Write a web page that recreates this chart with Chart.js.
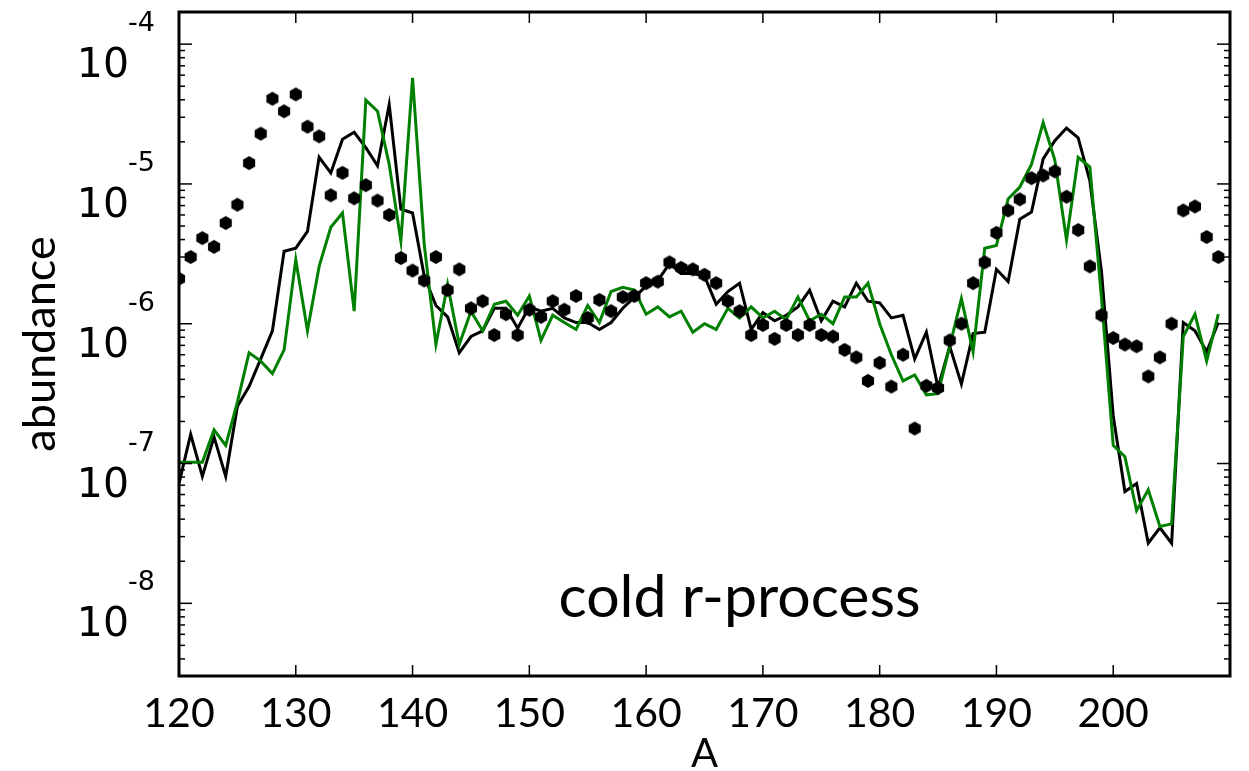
<!DOCTYPE html>
<html>
<head>
<meta charset="utf-8">
<script src="https://cdn.jsdelivr.net/npm/chart.js@4.4.1/dist/chart.umd.min.js"></script>
<style>
html, body { margin: 0; padding: 0; background: #fff; }
</style>
</head>
<body>
<canvas id="myChart" width="1249" height="771"></canvas>
<script>
const massNumbers = [
    120, 121, 122, 123, 124, 125, 126, 127, 128, 129,
    130, 131, 132, 133, 134, 135, 136, 137, 138, 139,
    140, 141, 142, 143, 144, 145, 146, 147, 148, 149,
    150, 151, 152, 153, 154, 155, 156, 157, 158, 159,
    160, 161, 162, 163, 164, 165, 166, 167, 168, 169,
    170, 171, 172, 173, 174, 175, 176, 177, 178, 179,
    180, 181, 182, 183, 184, 185, 186, 187, 188, 189,
    190, 191, 192, 193, 194, 195, 196, 197, 198, 199,
    200, 201, 202, 203, 204, 205, 206, 207, 208, 209,
];

// solar r-process abundances (dots)
const solarDots = [
    2.1e-6, 3.0e-6, 4.1e-6, 3.55e-6, 5.25e-6, 7.1e-6, 1.41e-5, 2.29e-5, 4.07e-5, 3.31e-5,
    4.37e-5, 2.57e-5, 2.19e-5, 8.3e-6, 1.2e-5, 7.9e-6, 9.8e-6, 7.6e-6, 6.0e-6, 2.95e-6,
    2.4e-6, 2.04e-6, 3.0e-6, 1.74e-6, 2.45e-6, 1.29e-6, 1.45e-6, 8.3e-7, 1.17e-6, 8.3e-7,
    1.26e-6, 1.12e-6, 1.45e-6, 1.26e-6, 1.58e-6, 1.1e-6, 1.48e-6, 1.23e-6, 1.55e-6, 1.58e-6,
    1.95e-6, 2.0e-6, 2.75e-6, 2.51e-6, 2.45e-6, 2.24e-6, 1.95e-6, 1.45e-6, 1.23e-6, 8.3e-7,
    9.8e-7, 7.8e-7, 9.8e-7, 8.3e-7, 9.8e-7, 8.3e-7, 8.1e-7, 6.5e-7, 5.75e-7, 3.9e-7,
    5.25e-7, 3.55e-7, 6.0e-7, 1.78e-7, 3.6e-7, 3.47e-7, 7.6e-7, 1.0e-6, 1.95e-6, 2.75e-6,
    4.47e-6, 6.46e-6, 7.76e-6, 1.1e-5, 1.15e-5, 1.23e-5, 8.1e-6, 4.68e-6, 2.57e-6, 1.15e-6,
    7.9e-7, 7.1e-7, 6.9e-7, 4.2e-7, 5.75e-7, 1.0e-6, 6.46e-6, 6.9e-6, 4.17e-6, 3.0e-6,
];

// model 1 (black line)
const blackModel = [
    7.2e-8, 1.62e-7, 8.1e-8, 1.55e-7, 8.1e-8, 2.57e-7, 3.55e-7, 5.6e-7, 8.9e-7, 3.3e-6,
    3.47e-6, 4.57e-6, 1.55e-5, 1.2e-5, 2.09e-5, 2.34e-5, 1.82e-5, 1.35e-5, 3.7e-5, 6.6e-6,
    6.2e-6, 2.19e-6, 1.35e-6, 1.12e-6, 6.2e-7, 8.1e-7, 8.9e-7, 1.29e-6, 1.29e-6, 9.3e-7,
    1.32e-6, 1.23e-6, 1.29e-6, 1.1e-6, 1.02e-6, 1.02e-6, 9.1e-7, 1.02e-6, 1.29e-6, 1.55e-6,
    1.86e-6, 2.04e-6, 2.69e-6, 2.29e-6, 2.29e-6, 2.19e-6, 1.38e-6, 1.7e-6, 1.95e-6, 9.1e-7,
    1.2e-6, 1.05e-6, 1.15e-6, 1.32e-6, 1.74e-6, 1.05e-6, 1.45e-6, 1.32e-6, 1.95e-6, 1.45e-6,
    1.41e-6, 1.1e-6, 1.15e-6, 5.6e-7, 8.7e-7, 3.47e-7, 6.9e-7, 3.7e-7, 8.5e-7, 8.7e-7,
    2.45e-6, 2.0e-6, 5.6e-6, 6.3e-6, 1.51e-5, 2.04e-5, 2.51e-5, 2.14e-5, 1.05e-5, 2.34e-6,
    2.19e-7, 6.3e-8, 7.2e-8, 2.69e-8, 3.47e-8, 2.69e-8, 1.02e-6, 8.9e-7, 6.3e-7, 1.02e-6,
];

// model 2 (green line)
const greenModel = [
    1.02e-7, 1.02e-7, 1.02e-7, 1.74e-7, 1.35e-7, 2.75e-7, 6.2e-7, 5.4e-7, 4.4e-7, 6.5e-7,
    2.88e-6, 8.9e-7, 2.57e-6, 4.9e-6, 6.2e-6, 1.23e-6, 3.98e-5, 3.31e-5, 1.38e-5, 3.9e-6,
    5.75e-5, 3.7e-6, 7.1e-7, 1.91e-6, 7.1e-7, 1.23e-6, 8.9e-7, 1.38e-6, 1.45e-6, 1.15e-6,
    1.58e-6, 7.6e-7, 1.15e-6, 1.02e-6, 9.1e-7, 1.35e-6, 1.02e-6, 1.7e-6, 1.82e-6, 1.74e-6,
    1.17e-6, 1.32e-6, 1.12e-6, 1.23e-6, 8.7e-7, 1.0e-6, 9.1e-7, 1.29e-6, 1.1e-6, 1.32e-6,
    1.1e-6, 1.23e-6, 1.07e-6, 1.55e-6, 1.05e-6, 1.17e-6, 1.0e-6, 1.55e-6, 1.55e-6, 1.95e-6,
    1.0e-6, 6.0e-7, 3.9e-7, 4.3e-7, 3.1e-7, 3.16e-7, 6.9e-7, 1.51e-6, 6.3e-7, 3.47e-6,
    3.63e-6, 7.8e-6, 9.5e-6, 1.38e-5, 2.75e-5, 1.48e-5, 3.98e-6, 1.55e-5, 1.32e-5, 1.51e-6,
    1.35e-7, 1.12e-7, 4.6e-8, 6.5e-8, 3.55e-8, 3.7e-8, 8.1e-7, 1.17e-6, 5.4e-7, 1.17e-6,
];

const xTickValues = [120, 130, 140, 150, 160, 170, 180, 190, 200];
const yLabelExponents = [-8, -7, -6, -5, -4];
const yTickExponents = [-9, -8, -7, -6, -5, -4];

// matplotlib style hexagon marker
function hexagonMarker(r) {
    const c = document.createElement('canvas');
    const s = Math.ceil(r * 2 + 2);
    c.width = s;
    c.height = s;
    const g = c.getContext('2d');
    g.beginPath();
    for (let i = 0; i < 6; i++) {
        const a = Math.PI / 2 + i * Math.PI / 3;
        const px = s / 2 + r * Math.cos(a);
        const py = s / 2 + r * Math.sin(a);
        if (i === 0) g.moveTo(px, py); else g.lineTo(px, py);
    }
    g.closePath();
    g.fillStyle = '#000';
    g.fill();
    return c;
}

const pairs = (vals) => massNumbers.map((a, i) => ({x: a, y: vals[i]}));

const framePlugin = {
    id: 'frame',
    afterDatasetsDraw(chart) {
        const {ctx, chartArea: area, scales} = chart;
        const x = scales.x, y = scales.y;
        ctx.save();
        ctx.strokeStyle = '#000';
        ctx.lineWidth = 1.5;
        const seg = (x1, y1, x2, y2) => {
            ctx.beginPath();
            ctx.moveTo(x1, y1);
            ctx.lineTo(x2, y2);
            ctx.stroke();
        };
        // log ticks, inward, left and right
        yTickExponents.forEach(e => {
            for (let m = 1; m < 10; m++) {
                const py = y.getPixelForValue(m * Math.pow(10, e));
                if (py < area.top || py > area.bottom) continue;
                const len = m === 1 ? 13 : 6;
                seg(area.left, py, area.left + len, py);
                seg(area.right, py, area.right - len, py);
            }
        });
        xTickValues.forEach(v => {
            const px = x.getPixelForValue(v);
            if (px <= area.left + 1) return;
            seg(px, area.bottom, px, area.bottom - 11);
            seg(px, area.top, px, area.top + 11);
        });
        ctx.lineWidth = 3;
        ctx.strokeRect(area.left, area.top, area.right - area.left, area.bottom - area.top);

        // y tick labels as 10^n
        ctx.fillStyle = '#000';
        ctx.textBaseline = 'alphabetic';
        yLabelExponents.forEach(e => {
            const py = y.getPixelForValue(Math.pow(10, e));
            ctx.font = '41px "DejaVu Sans"';
            ctx.textAlign = 'right';
            ctx.fillText('10', 129, py + 33);
            ctx.font = '27px "DejaVu Sans"';
            ctx.textAlign = 'left';
            ctx.fillText(String(e), 128, py - 13);
        });

        // annotation
        ctx.font = '59px Lato';
        ctx.textAlign = 'left';
        ctx.fillText('cold r-process', x.getPixelForValue(152.5), y.getPixelForValue(8e-9));
        ctx.restore();
    }
};

const data = {
    datasets: [{
        label: 'solar',
        data: pairs(solarDots),
        showLine: false,
        pointStyle: hexagonMarker(7),
        pointRadius: 7,
        order: 0,
        clip: 0,
    }, {
        label: 'green',
        data: pairs(greenModel),
        borderColor: '#008000',
        borderWidth: 3,
        pointRadius: 0,
        tension: 0,
        order: 1,
        clip: 0,
    }, {
        label: 'black',
        data: pairs(blackModel),
        borderColor: '#000000',
        borderWidth: 3,
        pointRadius: 0,
        tension: 0,
        order: 2,
        clip: 0,
    }]
};

const config = {
    type: 'line',
    data: data,
    options: {
        responsive: false,
        devicePixelRatio: 1,
        animation: false,
        layout: {padding: {left: 0, top: 12, right: 19, bottom: 0}},
        plugins: {
            legend: {display: false},
            tooltip: {enabled: false},
        },
        scales: {
            x: {
                type: 'linear',
                min: 120,
                max: 210,
                afterBuildTicks: (s) => { s.ticks = xTickValues.map(v => ({value: v})); },
                afterFit: (s) => { s.height = 95; },
                grid: {display: false, drawTicks: false},
                border: {display: false},
                ticks: {
                    color: '#000',
                    font: {family: 'Lato', size: 41},
                    padding: 13,
                    maxRotation: 0,
                    autoSkip: false,
                },
                title: {
                    display: true,
                    text: 'A',
                    color: '#000',
                    font: {family: 'Lato', size: 40, lineHeight: 0.7},
                    padding: {top: 0, bottom: 3},
                },
            },
            y: {
                type: 'logarithmic',
                min: Math.pow(10, -8.52),
                max: Math.pow(10, -3.77),
                afterFit: (s) => { s.width = 179; },
                grid: {display: false},
                border: {display: false},
                ticks: {display: false},
                title: {
                    display: true,
                    text: 'abundance',
                    color: '#000',
                    font: {family: 'Lato', size: 45, lineHeight: 1.2},
                    padding: {top: 13, bottom: 0},
                },
            },
        },
    },
    plugins: [framePlugin],
};

const myChart = new Chart(
    document.getElementById('myChart'),
    config
);
</script>
</body>
</html>
